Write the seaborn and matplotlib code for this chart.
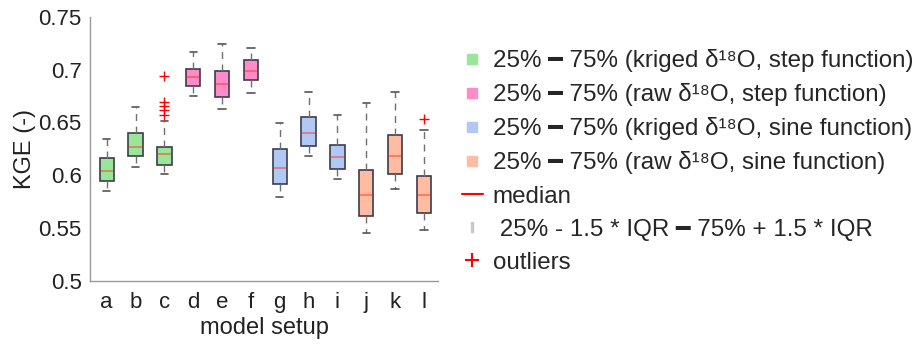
import numpy as np
import pandas as pd
import matplotlib
matplotlib.use("Agg")
import matplotlib.pyplot as plt
from matplotlib.lines import Line2D
import seaborn as sns

# five-number summaries (KGE)
setups = ["a", "b", "c", "d", "e", "f", "g", "h", "i", "j", "k", "l"]
lower = [0.585, 0.608, 0.601, 0.675, 0.663, 0.678, 0.579, 0.618, 0.596, 0.545, 0.587, 0.548]
q1 = [0.595, 0.618, 0.610, 0.684, 0.674, 0.690, 0.592, 0.628, 0.606, 0.561, 0.601, 0.564]
median = [0.604, 0.627, 0.620, 0.693, 0.686, 0.699, 0.607, 0.640, 0.617, 0.581, 0.618, 0.581]
q3 = [0.616, 0.640, 0.627, 0.701, 0.699, 0.709, 0.625, 0.655, 0.629, 0.605, 0.638, 0.599]
upper = [0.634, 0.665, 0.651, 0.717, 0.724, 0.720, 0.649, 0.679, 0.657, 0.668, 0.679, 0.643]

outlier_setup = ["c", "c", "c", "c", "c", "l"]
outlier_kge = [0.694, 0.669, 0.666, 0.662, 0.657, 0.653]

group_colors = ["#9be59b", "#ff8cc8", "#b0c8f4", "#ffbca3"]
group_of_setup = [0, 0, 0, 1, 1, 1, 2, 2, 2, 3, 3, 3]

legend_labels = [
    "25% \u2501 75% (kriged \u03b4\u00b9\u2078O, step function)",
    "25% \u2501 75% (raw \u03b4\u00b9\u2078O, step function)",
    "25% \u2501 75% (kriged \u03b4\u00b9\u2078O, sine function)",
    "25% \u2501 75% (raw \u03b4\u00b9\u2078O, sine function)",
    "median",
    " 25% - 1.5 * IQR \u2501 75% + 1.5 * IQR",
    "outliers",
]

rows = []
for i, s in enumerate(setups):
    for v in (lower[i], q1[i], median[i], q3[i], upper[i]):
        rows.append({"setup": s, "KGE": v})
df = pd.DataFrame(rows)
out = pd.DataFrame({"setup": outlier_setup, "KGE": outlier_kge})

sns.set_style("white")
plt.rcParams["font.family"] = ["Liberation Sans", "DejaVu Sans"]

fig = plt.figure(figsize=(9.24, 3.49), dpi=100)
ax = fig.add_axes([0.0974, 0.195, 0.377, 0.757])

palette = [group_colors[g] for g in group_of_setup]
sns.boxplot(data=df, x="setup", y="KGE", hue="setup", order=setups, hue_order=setups,
            palette=palette, saturation=1, width=0.5, whis=np.inf, legend=False,
            linecolor="#3c3c4c", linewidth=1.2, ax=ax,
            medianprops={"color": "#ff2000", "alpha": 0.45, "linewidth": 1.3},
            whiskerprops={"color": "#707070", "linestyle": (0, (5, 4)), "linewidth": 1.0},
            capprops={"color": "#555555", "linewidth": 1.2})

sns.stripplot(data=out, x="setup", y="KGE", order=setups, jitter=False, marker="+",
              color="red", size=7, linewidth=1.0, ax=ax, native_scale=False)

ax.set_xlim(-0.58, 11.5)
ax.set_ylim(0.5, 0.75)
ax.set_yticks([0.5, 0.55, 0.6, 0.65, 0.7, 0.75])
ax.set_yticklabels(["0.5", "0.55", "0.6", "0.65", "0.7", "0.75"])
ax.set_xlabel("model setup", fontsize=17, color="#222222", labelpad=3)
ax.set_ylabel("KGE (-)", fontsize=17, color="#222222", labelpad=2)
ax.tick_params(axis="both", direction="in", length=4, color="#888888",
               labelsize=16, labelcolor="#222222")
ax.tick_params(axis="y", pad=6)
ax.tick_params(axis="x", pad=8)
sns.despine(ax=ax)
for sp in ("left", "bottom"):
    ax.spines[sp].set_color("#999999")
    ax.spines[sp].set_linewidth(1.0)

handles = [Line2D([], [], linestyle="none", marker="s", markersize=7,
                  markerfacecolor=c, markeredgecolor=c) for c in group_colors]
handles.append(Line2D([], [], color="red", linewidth=1.5))
handles.append(Line2D([], [], linestyle="none", marker="$\\mathrm{I}$", markersize=7, color="#c8c8c8"))
handles.append(Line2D([], [], linestyle="none", marker="+", markersize=10,
                      markeredgewidth=1.5, color="red"))
fig.legend(handles, legend_labels, loc="upper left", bbox_to_anchor=(0.489, 0.887),
           frameon=False, fontsize=17.4, handlelength=0.9, handletextpad=0.4,
           labelspacing=0.46, borderaxespad=0)

fig.savefig("out.png", dpi=100)
